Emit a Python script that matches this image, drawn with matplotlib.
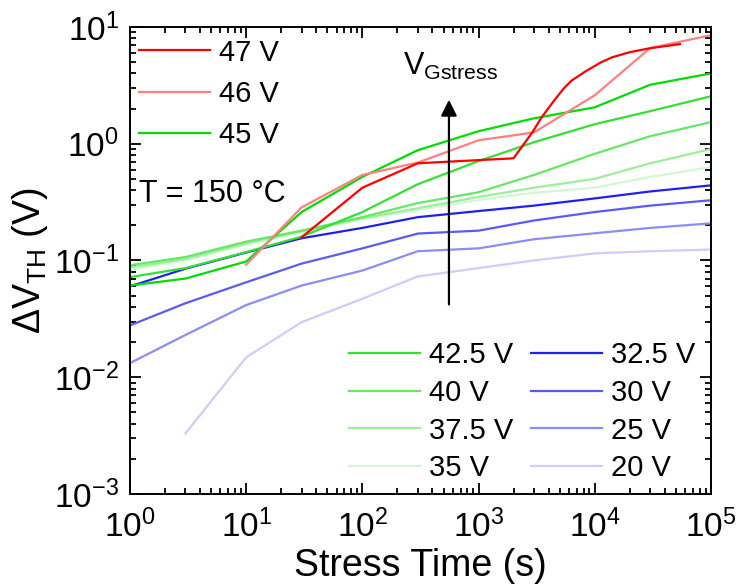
import matplotlib
matplotlib.use('Agg')
import matplotlib.pyplot as plt
from matplotlib.ticker import LogLocator, FuncFormatter, NullFormatter
import numpy as np

plt.rcParams['font.family'] = ['Liberation Sans', 'DejaVu Sans']
plt.rcParams['mathtext.fontset'] = 'custom'
plt.rcParams['mathtext.rm'] = 'Liberation Sans'
plt.rcParams['mathtext.it'] = 'Liberation Sans:italic'
plt.rcParams['mathtext.default'] = 'regular'

# stress times (s)
t = [1, 3, 10, 30, 100, 300, 1000, 3000, 10000, 30000, 100000]
t_20 = [3, 10, 30, 100, 300, 1000, 3000, 10000, 30000, 100000]
t_46 = [10, 30, 100, 300, 1000, 3000, 10000, 30000, 100000]
t_47 = [30, 100, 300, 2000, 2900, 3500, 4470, 5370, 6310, 8500, 11200, 14100, 20000, 30000, 54000]

# delta V_TH (V)
v_47 = [0.158, 0.42, 0.68, 0.75, 1.25, 1.69, 2.34, 2.95, 3.47, 4.22, 4.95, 5.5, 6.08, 6.58, 7.13]
v_46 = [0.092, 0.285, 0.54, 0.69, 1.07, 1.25, 2.6, 6.6, 8.5]
v_45 = [0.061, 0.070, 0.098, 0.26, 0.52, 0.88, 1.28, 1.65, 2.05, 3.2, 4.0]
v_425 = [0.072, 0.086, 0.118, 0.160, 0.26, 0.45, 0.71, 1.03, 1.47, 1.9, 2.55]
v_40 = [0.091, 0.107, 0.145, 0.18, 0.235, 0.31, 0.384, 0.54, 0.82, 1.16, 1.53]
v_375 = [0.087, 0.103, 0.14, 0.178, 0.23, 0.28, 0.35, 0.42, 0.50, 0.68, 0.90]
v_35 = [0.083, 0.100, 0.137, 0.175, 0.225, 0.27, 0.33, 0.38, 0.42, 0.52, 0.63]
v_325 = [0.060, 0.085, 0.117, 0.155, 0.19, 0.235, 0.265, 0.295, 0.34, 0.39, 0.44]
v_30 = [0.0278, 0.043, 0.065, 0.094, 0.127, 0.17, 0.18, 0.22, 0.26, 0.295, 0.328]
v_25 = [0.0132, 0.023, 0.0415, 0.061, 0.082, 0.12, 0.127, 0.152, 0.171, 0.19, 0.208]
v_20 = [0.0033, 0.0148, 0.0296, 0.047, 0.073, 0.086, 0.10, 0.115, 0.12, 0.124]

fig = plt.figure(figsize=(7.36, 5.85), dpi=100)
ax = fig.add_axes([0.1766, 0.1556, 0.7894, 0.7983])

lw = 1.6
l20, = ax.plot(t_20, v_20, color='#cdcdfb', lw=lw, label='20 V')
l25, = ax.plot(t, v_25, color='#8c8cf7', lw=lw, label='25 V')
l30, = ax.plot(t, v_30, color='#5a5af5', lw=lw, label='30 V')
l325, = ax.plot(t, v_325, color='#2020ee', lw=lw, label='32.5 V')
l35, = ax.plot(t, v_35, color='#d2f7d2', lw=lw, label='35 V')
l375, = ax.plot(t, v_375, color='#9bef9b', lw=lw, label='37.5 V')
l40, = ax.plot(t, v_40, color='#66e866', lw=lw, label='40 V')
l425, = ax.plot(t, v_425, color='#33e033', lw=lw, label='42.5 V')
l45, = ax.plot(t, v_45, color='#00dd00', lw=lw, label='45 V')
l46, = ax.plot(t_46, v_46, color='#ff8080', lw=lw, label='46 V')
l47, = ax.plot(t_47, v_47, color='#ff0000', lw=lw, label='47 V')

ax.set_xscale('log')
ax.set_yscale('log')
ax.set_xlim(1, 1e5)
ax.set_ylim(1e-3, 10)

fmt = FuncFormatter(lambda v, p: r'$10^{%d}$' % int(round(np.log10(v))))
ax.xaxis.set_major_locator(LogLocator(base=10, numticks=10))
ax.yaxis.set_major_locator(LogLocator(base=10, numticks=10))
ax.xaxis.set_minor_locator(LogLocator(base=10, subs=np.arange(2, 10), numticks=10))
ax.yaxis.set_minor_locator(LogLocator(base=10, subs=np.arange(2, 10), numticks=10))
ax.xaxis.set_major_formatter(fmt)
ax.yaxis.set_major_formatter(fmt)
ax.xaxis.set_minor_formatter(NullFormatter())
ax.yaxis.set_minor_formatter(NullFormatter())

ax.tick_params(which='both', direction='in', top=True, right=True, width=1.3)
ax.tick_params(which='major', length=8, labelsize=24)
ax.tick_params(which='minor', length=4)
ax.tick_params(axis='x', which='major', pad=11)
ax.tick_params(axis='y', which='major', pad=8)
for s in ax.spines.values():
    s.set_linewidth(1.4)

ax.set_xlabel('Stress Time (s)', fontsize=27, labelpad=3)
ax.set_ylabel(r'$\Delta$V$_{TH}$ (V)', fontsize=27)
ax.yaxis.set_label_coords(-0.138, 0.5)

leg1 = ax.legend(handles=[l47, l46, l45], loc='upper left', bbox_to_anchor=(0.0155, 0.975),
                 frameon=False, fontsize=21, borderpad=0, borderaxespad=0,
                 handlelength=2.45, handletextpad=0.3, labelspacing=0.45)
ax.add_artist(leg1)
ax.legend(handles=[l425, l40, l375, l35, l325, l30, l25, l20], ncol=2, loc='lower left',
          bbox_to_anchor=(0.377, 0.025), frameon=False, fontsize=21, borderpad=0,
          borderaxespad=0, handlelength=2.45, handletextpad=0.3, labelspacing=0.33,
          columnspacing=0.6)

ax.text(0.0155, 0.642, 'T = 150 \u00b0C', transform=ax.transAxes, fontsize=22, va='center')
ax.text(0.47, 0.897, r'V$_{Gstress}$', transform=ax.transAxes, fontsize=22, va='baseline')
ax.annotate('', xy=(0.549, 0.850), xytext=(0.549, 0.400), xycoords='axes fraction',
            arrowprops=dict(arrowstyle='-|>', color='k', lw=1.6, mutation_scale=24))

fig.savefig('out.png', dpi=100)
